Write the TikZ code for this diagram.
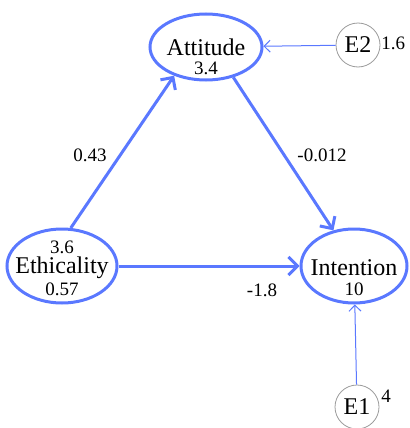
\documentclass[tikz,border=0pt]{standalone}
\usepackage{fontspec}
\setmainfont{Liberation Serif}
\usetikzlibrary{arrows.meta,shapes.geometric}
\definecolor{pathBlue}{HTML}{5A78FF}
\definecolor{errGray}{HTML}{9A9A9A}

\tikzset{
    latent/.style={
        ellipse,
        draw=pathBlue,
        line width=1.5pt,
        inner sep=0pt,
        font=\fontsize{12}{14}\selectfont
    },
    errnode/.style={
        circle,
        draw=errGray,
        line width=0.4pt,
        minimum size=22pt,
        inner sep=0pt,
        font=\fontsize{12}{14}\selectfont
    },
    valtext/.style={
        inner sep=0pt,
        font=\fontsize{9.5}{11}\selectfont
    },
    mainpath/.style={
        draw=pathBlue,
        line width=1.5pt,
        -{Straight Barb[length=4.5pt,width=9pt,line width=1.5pt]}
    },
    errpath/.style={
        draw=pathBlue,
        line width=0.5pt,
        -{Straight Barb[length=3pt,width=6pt]}
    }
}

\begin{document}
\begin{tikzpicture}[x=0.5pt,y=-0.5pt]

        \useasboundingbox (0,0) rectangle (409,428);

        % =====================================================
        % VARIABLES LATENTES
        % =====================================================

        % Attitude
        \node[
            latent,
            minimum width=56pt,
            minimum height=33pt
        ] (attitude) at (206,47) {};
        \node[latent, draw=none] (attitudeName) at (206,47) {Attitude};
        \node[valtext] (attitudeVar) at (206,68) {3.4};

        % Ethicality
        \node[
            latent,
            minimum width=55pt,
            minimum height=37pt
        ] (ethicality) at (62,266) {};
        \node[latent, draw=none] (ethicalityName) at (62,268) {Ethicality};
        \node[valtext] (ethicalityMean) at (62,247) {3.6};
        \node[valtext] (ethicalityVar) at (62,289) {0.57};

        % Intention
        \node[
            latent,
            minimum width=53pt,
            minimum height=37pt
        ] (intention) at (354,266) {};
        \node[latent, draw=none] (intentionName) at (354,268) {Intention};
        \node[valtext] (intentionVar) at (354,289) {10};

        % =====================================================
        % ERRORES
        % =====================================================

        % E2
        \node[errnode] (eTwo) at (358,45) {E2};
        \node[valtext, anchor=west] (eTwoVar) at (381,43) {1.6};

        % E1
        \node[errnode] (eOne) at (357,407) {E1};
        \node[valtext, anchor=west] (eOneVar) at (381,396) {4};

        % =====================================================
        % CAMINOS
        % =====================================================

        \draw[mainpath] (ethicality.77) -- (attitude.222);
        \draw[mainpath] (attitude.312) -- (intention.120);
        \draw[mainpath] (ethicality) -- (intention);

        \draw[errpath] (eTwo) -- (attitude);
        \draw[errpath] (eOne) -- (intention);

        % Coeficientes
        \node[valtext] (coefEA) at (90,155) {0.43};
        \node[valtext] (coefAI) at (322,155) {-0.012};
        \node[valtext] (coefEI) at (262,290) {-1.8};

\end{tikzpicture}
\end{document}
